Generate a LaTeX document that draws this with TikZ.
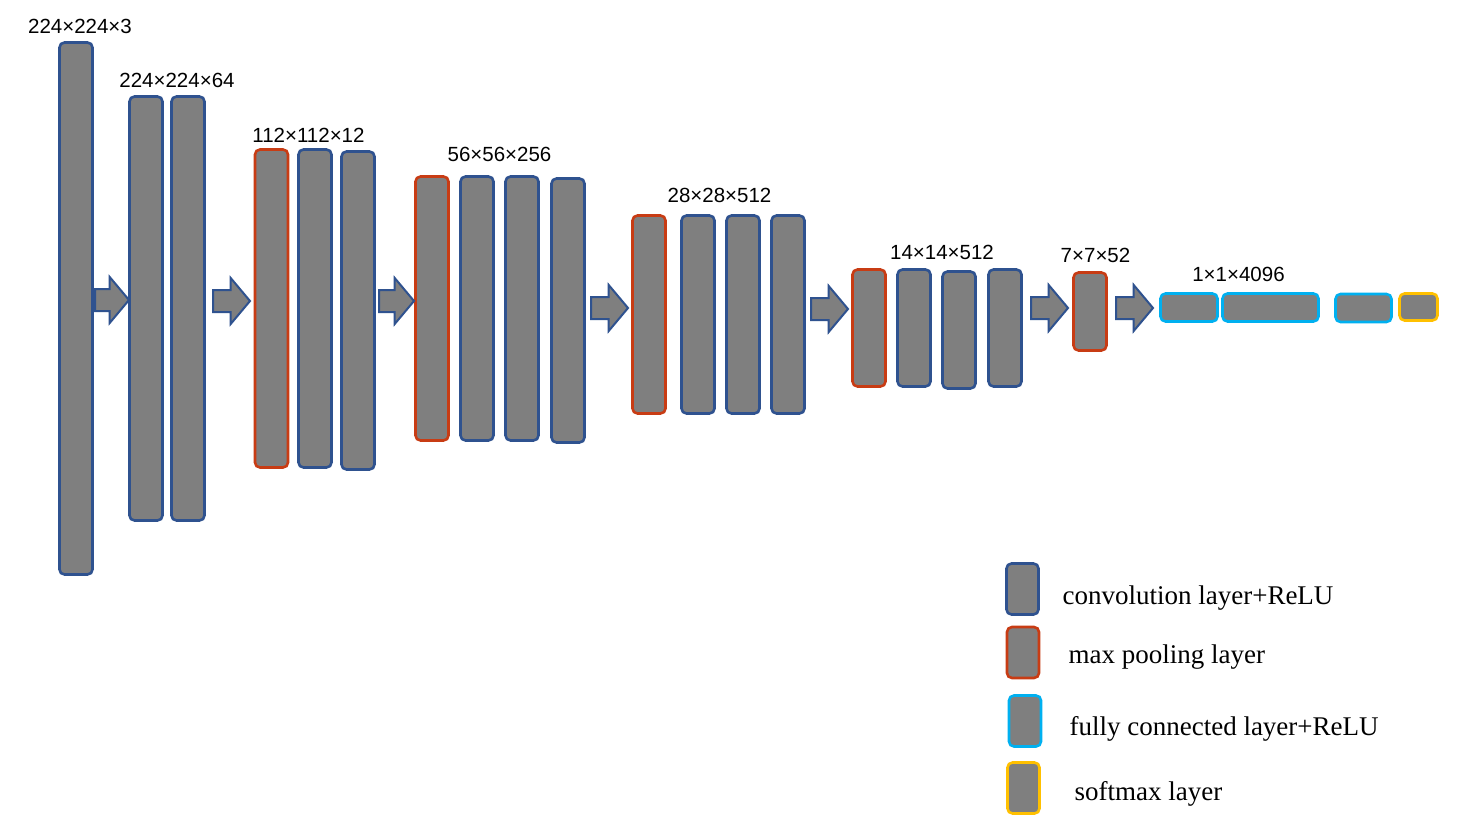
\documentclass[tikz,border=0pt]{standalone}
\usepackage{fontspec}
\setmainfont{Liberation Serif}
\newfontfamily\arialfont{Liberation Sans}
\usetikzlibrary{shapes.arrows}
\definecolor{convblue}{RGB}{47,82,143}
\definecolor{poolred}{RGB}{200,60,20}
\definecolor{fccyan}{RGB}{0,176,240}
\definecolor{smorange}{RGB}{255,192,0}
\definecolor{blockgray}{RGB}{127,127,127}
\begin{document}
\begin{tikzpicture}[x=1pt,y=-1pt,
  layer/.style={draw,fill=blockgray,line width=2.6pt,rounded corners=5pt,inner sep=0pt,minimum width=33pt},
  conv/.style={layer,draw=convblue},
  pool/.style={layer,draw=poolred},
  fc/.style={layer,draw=fccyan,minimum height=28pt},
  soft/.style={layer,draw=smorange,minimum height=27pt},
  flow/.style={single arrow,draw=convblue,fill=blockgray,line width=2pt,inner xsep=0pt,inner ysep=10pt,anchor=tail,
    single arrow head extend=12pt,single arrow head indent=0pt,single arrow tip angle=100},
  dims/.style={anchor=base,font=\arialfont\fontsize{20.5}{24}\selectfont},
  legtext/.style={anchor=base west,font=\fontsize{27}{32}\selectfont}]

  \useasboundingbox[fill=white] (0,0) rectangle (1457,829);

  \node[conv,minimum height=532pt] (c1) at (76,308.5) {};
  \node[dims] (d1) at (80,34) {224×224×3};

  \node[conv,minimum height=424pt] (c2) at (146,308.5) {};
  \node[conv,minimum height=424pt] (c3) at (188,308.5) {};
  \node[dims] (d2) at (177,88) {224×224×64};

  \node[pool,minimum height=318pt] (p1) at (271.5,308.5) {};
  \node[conv,minimum height=318pt] (c4) at (315,308.5) {};
  \node[conv,minimum height=318pt] (c5) at (358,310.5) {};
  \node[dims] (d3) at (308.5,143) {112×112×12};

  \node[pool,minimum height=264pt] (p2) at (432,308.5) {};
  \node[conv,minimum height=264pt] (c6) at (477,308.5) {};
  \node[conv,minimum height=264pt] (c7) at (522,308.5) {};
  \node[conv,minimum height=264pt] (c8) at (568,310.5) {};
  \node[dims] (d4) at (499.5,162) {56×56×256};

  \node[pool,minimum height=198pt] (p3) at (649,314.5) {};
  \node[conv,minimum height=198pt] (c9) at (698,314.5) {};
  \node[conv,minimum height=198pt] (c10) at (743,314.5) {};
  \node[conv,minimum height=198pt] (c11) at (788,314.5) {};
  \node[dims] (d5) at (719.5,203) {28×28×512};

  \node[pool,minimum height=117pt] (p4) at (869,328) {};
  \node[conv,minimum height=117pt] (c12) at (914,328) {};
  \node[conv,minimum height=117pt] (c13) at (959,330) {};
  \node[conv,minimum height=117pt] (c14) at (1005,328) {};
  \node[dims] (d6) at (942,260) {14×14×512};

  \node[pool,minimum height=78pt] (p5) at (1090,311.5) {};
  \node[dims] (d7) at (1095.5,262) {7×7×52};

  \node[fc,minimum width=57pt] (f1) at (1189,307.5) {};
  \node[fc,minimum width=96pt] (f2) at (1270.5,307.5) {};
  \node[fc,minimum width=56pt] (f3) at (1363.5,308) {};
  \node[soft,minimum width=38pt] (s1) at (1418.5,307) {};
  \node[dims] (d8) at (1238.5,281) {1×1×4096};

  \node[flow,minimum height=34pt] (a1) at (94,300) {};
  \node[flow,minimum height=37pt] (a2) at (212,301) {};
  \node[flow,minimum height=35pt] (a3) at (378,301) {};
  \node[flow,minimum height=37pt] (a4) at (590,308) {};
  \node[flow,minimum height=37pt] (a5) at (810,309) {};
  \node[flow,minimum height=37pt] (a6) at (1030,308) {};
  \node[flow,minimum height=37pt] (a7) at (1115,308) {};

  \node[conv,minimum width=32pt,minimum height=51pt] (k1) at (1022.5,589) {};
  \node[legtext] (t1) at (1059,604) {convolution layer+ReLU};
  \node[pool,minimum width=32pt,minimum height=51pt] (k2) at (1023,652.5) {};
  \node[legtext] (t2) at (1065,663) {max pooling layer};
  \node[fc,minimum width=32pt,minimum height=51pt] (k3) at (1025,721) {};
  \node[legtext] (t3) at (1066,735) {fully connected layer+ReLU};
  \node[soft,minimum width=32pt,minimum height=51pt] (k4) at (1023.5,788) {};
  \node[legtext] (t4) at (1071,800) {softmax layer};
\end{tikzpicture}
\end{document}
